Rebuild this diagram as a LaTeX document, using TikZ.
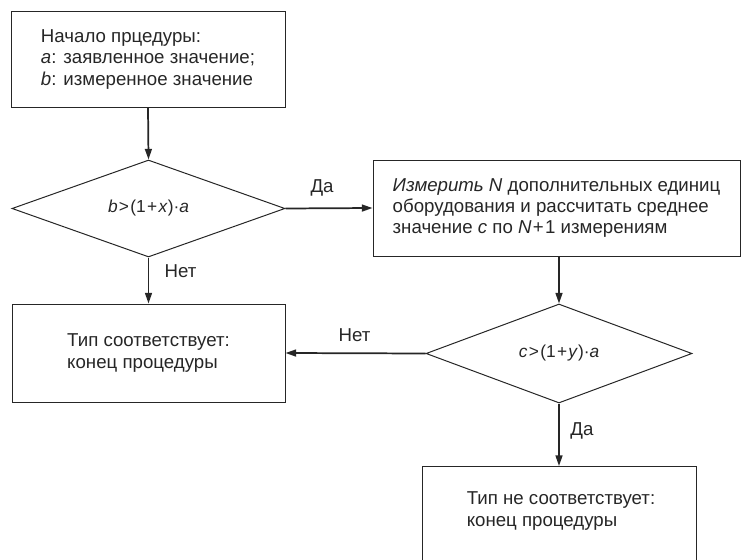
\documentclass[tikz,border=0pt]{standalone}
\usepackage{fontspec}
\setmainfont{Liberation Sans}
\usetikzlibrary{arrows.meta,shapes.geometric}
\tikzset{
  txt/.style={font=\fontsize{14pt}{16.1pt}\selectfont, text=black!85},
  box/.style={txt, draw=black!85, line width=0.75pt, rectangle, align=left, inner sep=0pt},
  dia/.style={draw=black!85, line width=0.75pt, diamond, inner sep=0pt, shape aspect=2.7,
    font=\fontsize{13pt}{15pt}\selectfont, text=black!85},
  lab/.style={txt, inner sep=0pt},
  arr/.style={draw=black!85, line width=1.3pt, -{Triangle[length=8pt,width=5.2pt]}},
}
\begin{document}
\begin{tikzpicture}[x=0.75pt,y=-0.75pt]
\useasboundingbox (0,0) rectangle (742,560);
\clip (0,0) rectangle (742,560);
\node[box, minimum width=205.5pt, minimum height=71.25pt] (b1) at (148,59.5)
  {Начало прцедуры:\\\textit{a}: заявленное значение;\\\textit{b}: измеренное значение};
\node[dia, minimum width=204.75pt, minimum height=72.75pt] (d1) at (148.5,208.5)
  {\textit{b}\kern1pt>\kern1pt(1\kern1pt+\kern1pt\textit{x})·\textit{a}};
\node[box, minimum width=275.25pt, minimum height=72pt] (b2) at (556.5,208)
  {\textit{Измерить N} дополнительных единиц\\оборудования и рассчитать среднее\\значение \textit{c} по \textit{N}\kern1pt+\kern1pt1 измерениям};
\node[box, minimum width=204.75pt, minimum height=73.5pt] (b3) at (148.5,353)
  {Тип соответствует:\\конец процедуры};
\node[dia, minimum width=199.5pt, minimum height=74.25pt] (d2) at (559,353.5)
  {\textit{c}\kern1pt>\kern1pt(1\kern1pt+\kern1pt\textit{y})·\textit{a}};
\node[box, minimum width=205.5pt, minimum height=75pt, anchor=north] (b4) at (559,466) {};
\node[lab, align=left] (t4) at (561,511) {Тип не соответствует:\\конец процедуры};
\draw[arr] (b1.south) -- (d1.north);
\draw[arr] (d1.east) -- node[lab, pos=0.42, yshift=15pt] (l1) {Да} (b2.west);
\draw[arr] (d1.south) -- node[lab, pos=0.3, xshift=24pt] (l2) {Нет} (b3.north);
\draw[arr] (d2.north |- b2.south) -- (d2.north);
\draw[arr] (d2.west) -- node[lab, pos=0.507, yshift=13.5pt] (l3) {Нет} (b3.east);
\draw[arr] (d2.south) -- node[lab, pos=0.44, xshift=17.25pt] (l4) {Да} (b4.north);
\end{tikzpicture}
\end{document}
